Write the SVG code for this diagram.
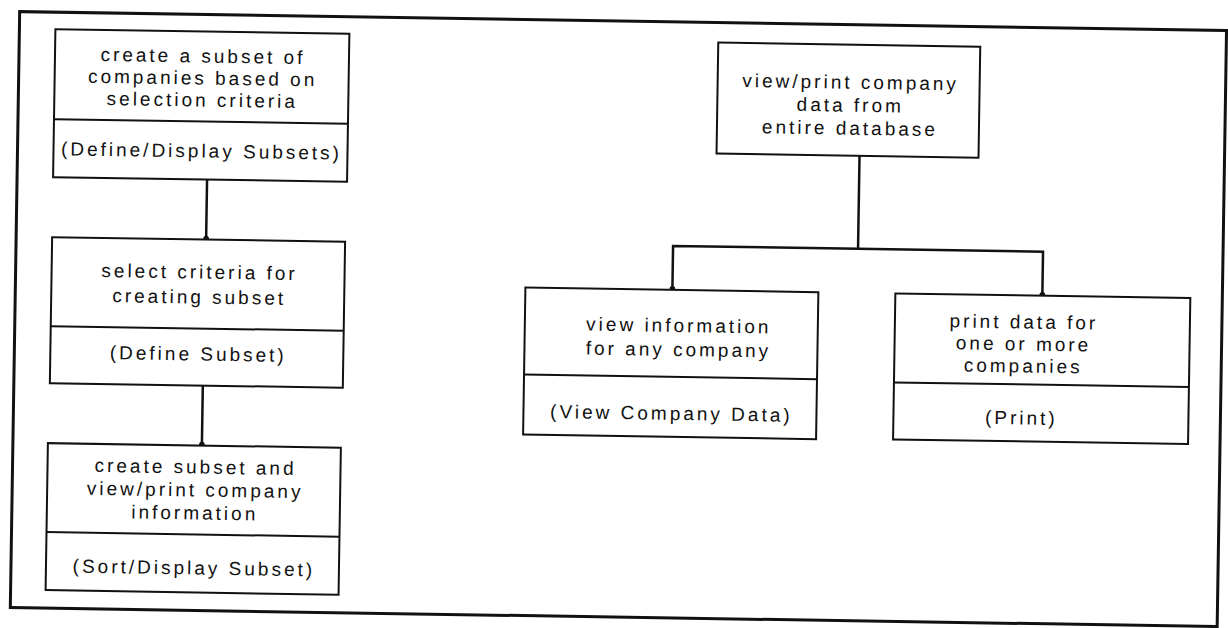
<svg xmlns="http://www.w3.org/2000/svg" width="1228" height="628" viewBox="0 0 1228 628">
<style>
.box{fill:#fff;stroke:#111;stroke-width:2}
.div{stroke:#111;stroke-width:2}
.frame{fill:none;stroke:#111;stroke-width:3}
.conn{fill:none;stroke:#111;stroke-width:2.5}
text{font-family:"Liberation Sans",Arial,sans-serif;font-size:19px;letter-spacing:3px;fill:#111;text-anchor:middle}
</style>
<defs>
<marker id="dot" markerWidth="8" markerHeight="8" refX="4" refY="5" markerUnits="userSpaceOnUse"><circle cx="4" cy="4" r="2.8" fill="#111"/></marker>
</defs>
<rect fill="#fff" width="1228" height="628"/>
<g transform="rotate(0.9 614 314)">
<rect class="frame" x="15" y="21" width="1207" height="596"/>
<g id="connectors">
<path class="conn" d="M205 186V246" marker-end="url(#dot)"/>
<path class="conn" d="M204 392V452" marker-end="url(#dot)"/>
<path class="conn" d="M857 152V245"/>
<path class="conn" d="M857 245H672V289" marker-end="url(#dot)"/>
<path class="conn" d="M857 245H1042V289" marker-end="url(#dot)"/>
</g>
<g id="node-define-display">
<rect class="box" x="51" y="38" width="294" height="148"/>
<line class="div" x1="51" y1="128" x2="345" y2="128"/>
<text x="199" y="69">create a subset of</text>
<text x="199" y="91">companies based on</text>
<text x="199" y="113">selection criteria</text>
<text x="199" y="164">(Define/Display Subsets)</text>
</g>
<g id="node-define-subset">
<rect class="box" x="51" y="246" width="293" height="146"/>
<line class="div" x1="51" y1="335" x2="344" y2="335"/>
<text x="199" y="285">select criteria for</text>
<text x="199" y="310">creating subset</text>
<text x="199" y="367">(Define Subset)</text>
</g>
<g id="node-sort-display">
<rect class="box" x="50" y="452" width="293" height="147"/>
<line class="div" x1="50" y1="541" x2="343" y2="541"/>
<text x="198" y="480">create subset and</text>
<text x="198" y="503">view/print company</text>
<text x="198" y="526">information</text>
<text x="198" y="581">(Sort/Display Subset)</text>
</g>
<g id="node-view-print">
<rect class="box" x="714" y="41" width="262" height="111"/>
<text x="847" y="85">view/print company</text>
<text x="847" y="108">data from</text>
<text x="847" y="131">entire database</text>
</g>
<g id="node-view-company">
<rect class="box" x="525" y="289" width="293" height="147"/>
<line class="div" x1="525" y1="376" x2="818" y2="376"/>
<text x="679" y="331">view information</text>
<text x="679" y="355">for any company</text>
<text x="673" y="419">(View Company Data)</text>
</g>
<g id="node-print">
<rect class="box" x="895" y="289" width="295" height="146"/>
<line class="div" x1="895" y1="378" x2="1190" y2="378"/>
<text x="1024" y="322">print data for</text>
<text x="1024" y="344">one or more</text>
<text x="1024" y="366">companies</text>
<text x="1023" y="418">(Print)</text>
</g>
</g>
</svg>
